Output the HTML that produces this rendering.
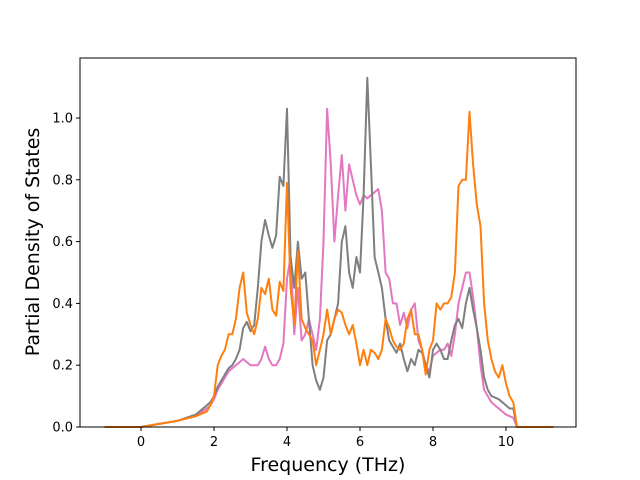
<!DOCTYPE html>
<html><head><meta charset="utf-8"><style>
body{margin:0;background:#fff;}
svg{display:block;font-family:"DejaVu Sans","Liberation Sans",sans-serif;}
</style></head><body>
<svg id="chart" width="640" height="480" viewBox="0 0 640 480">
<rect x="80" y="58" width="496" height="369" fill="#fff"/>
<g id="series"></g>
<rect x="80" y="58" width="496" height="369" fill="none" stroke="#000" stroke-width="1"/>
<g id="xticks"></g>
<g id="yticks"></g>
<text x="328" y="471" font-size="19" text-anchor="middle">Frequency (THz)</text>
<text transform="translate(39,242) rotate(-90)" font-size="19" text-anchor="middle">Partial Density of States</text>
</svg>
<script>
const freq = [-1,0,0.5,1,1.5,1.8,1.9,
2.0,2.1,2.2,2.3,2.4,2.5,2.6,2.7,2.8,2.9,
3.0,3.1,3.2,3.3,3.4,3.5,3.6,3.7,3.8,3.9,
4.0,4.1,4.2,4.3,4.4,4.5,4.6,4.7,4.8,4.9,
5.0,5.1,5.2,5.3,5.4,5.5,5.6,5.7,5.8,5.9,
6.0,6.1,6.2,6.3,6.4,6.5,6.6,6.7,6.8,6.9,
7.0,7.1,7.2,7.3,7.4,7.5,7.6,7.7,7.8,7.9,
8.0,8.1,8.2,8.3,8.4,8.5,8.6,8.7,8.8,8.9,
9.0,9.1,9.2,9.3,9.4,9.5,9.6,9.7,9.8,9.9,
10.0,10.1,10.2,10.3,10.4,11.3];
const pinkVals = [0,0,0.01,0.02,0.035,0.06,0.07,
0.09,0.12,0.14,0.16,0.18,0.19,0.2,0.21,0.22,0.21,
0.2,0.2,0.2,0.22,0.26,0.22,0.2,0.2,0.22,0.27,
0.48,0.55,0.3,0.45,0.28,0.3,0.35,0.3,0.25,0.35,
0.6,1.03,0.85,0.6,0.75,0.88,0.7,0.85,0.8,0.75,
0.72,0.75,0.74,0.75,0.76,0.77,0.7,0.5,0.48,0.4,
0.4,0.33,0.37,0.32,0.38,0.4,0.28,0.25,0.2,0.18,
0.23,0.24,0.25,0.25,0.27,0.23,0.3,0.4,0.45,0.5,
0.5,0.42,0.32,0.2,0.12,0.1,0.08,0.07,0.06,0.05,
0.04,0.035,0.03,0,0,0];
const grayVals = [0,0,0.01,0.02,0.04,0.07,0.08,
0.1,0.13,0.15,0.17,0.19,0.2,0.22,0.25,0.32,0.34,
0.31,0.33,0.45,0.6,0.67,0.62,0.58,0.62,0.81,0.78,
1.03,0.55,0.45,0.6,0.48,0.5,0.35,0.2,0.15,0.12,
0.16,0.28,0.3,0.35,0.4,0.6,0.65,0.5,0.45,0.55,
0.5,0.75,1.13,0.85,0.55,0.5,0.45,0.35,0.28,0.26,
0.24,0.27,0.22,0.18,0.22,0.2,0.25,0.24,0.2,0.16,
0.25,0.27,0.25,0.22,0.22,0.28,0.33,0.35,0.32,0.4,
0.45,0.38,0.32,0.25,0.16,0.12,0.1,0.095,0.09,0.08,
0.07,0.06,0.06,0,0,0];
const orangeVals = [0,0,0.01,0.02,0.035,0.05,0.07,
0.1,0.2,0.23,0.25,0.3,0.3,0.35,0.45,0.5,0.37,
0.33,0.3,0.35,0.45,0.43,0.48,0.38,0.36,0.47,0.44,
0.79,0.45,0.33,0.57,0.35,0.32,0.3,0.28,0.2,0.25,
0.3,0.38,0.3,0.35,0.38,0.37,0.33,0.3,0.33,0.27,
0.2,0.25,0.2,0.25,0.24,0.22,0.25,0.35,0.32,0.28,
0.26,0.25,0.27,0.35,0.38,0.3,0.3,0.25,0.17,0.25,
0.28,0.4,0.38,0.4,0.4,0.42,0.5,0.78,0.8,0.8,
1.02,0.85,0.72,0.65,0.4,0.28,0.22,0.18,0.16,0.2,
0.14,0.1,0.08,0,0,0];
const xTickVals = [0,2,4,6,8,10];
const xTickLabels = ["0","2","4","6","8","10"];
const yTickVals = [0,0.2,0.4,0.6,0.8,1.0];
const yTickLabels = ["0.0","0.2","0.4","0.6","0.8","1.0"];

const NS = "http://www.w3.org/2000/svg";
const X = f => 141 + f * 36.5;
const Y = v => 427 - v * 309;

const sg = document.getElementById('series');
function drawLine(vals, color, name) {
  const p = document.createElementNS(NS, 'polyline');
  
  
  p.setAttribute('points', freq.map((f, i) => X(f).toFixed(1) + ',' + Y(vals[i]).toFixed(1)).join(' '));
  p.setAttribute('fill', 'none');
  p.setAttribute('stroke', color);
  p.setAttribute('stroke-width', '2');
  p.setAttribute('stroke-linejoin', 'round');
  sg.appendChild(p);
}
drawLine(pinkVals, '#e377c2', 'pink-series-line');
drawLine(grayVals, '#7f7f7f', 'gray-series-line');
drawLine(orangeVals, '#ff7f0e', 'orange-series-line');

const xg = document.getElementById('xticks');
xTickVals.forEach((v, i) => {
  const l = document.createElementNS(NS, 'line');
  
  
  l.setAttribute('x1', X(v)); l.setAttribute('x2', X(v));
  l.setAttribute('y1', 427); l.setAttribute('y2', 431);
  l.setAttribute('stroke', '#000');
  xg.appendChild(l);
  const t = document.createElementNS(NS, 'text');
  
  
  t.setAttribute('x', X(v)); t.setAttribute('y', 446);
  t.setAttribute('font-size', '13'); t.setAttribute('text-anchor', 'middle');
  t.textContent = xTickLabels[i];
  xg.appendChild(t);
});
const yg = document.getElementById('yticks');
yTickVals.forEach((v, i) => {
  const l = document.createElementNS(NS, 'line');
  
  
  l.setAttribute('x1', 76); l.setAttribute('x2', 80);
  l.setAttribute('y1', Y(v)); l.setAttribute('y2', Y(v));
  l.setAttribute('stroke', '#000');
  yg.appendChild(l);
  const t = document.createElementNS(NS, 'text');
  
  
  t.setAttribute('x', 73); t.setAttribute('y', Y(v) + 4.5);
  t.setAttribute('font-size', '13'); t.setAttribute('text-anchor', 'end');
  t.textContent = yTickLabels[i];
  yg.appendChild(t);
});
</script>
</body></html>
